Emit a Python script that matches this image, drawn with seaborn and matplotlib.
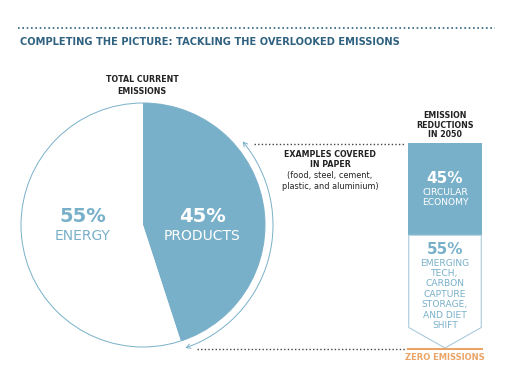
import numpy as np
import matplotlib
matplotlib.use("Agg")
import matplotlib.pyplot as plt
import seaborn as sns
from matplotlib.patches import Circle, Polygon, FancyArrowPatch
from matplotlib.path import Path
from matplotlib.transforms import Affine2D

# ---- data ----
pie_labels = ["PRODUCTS", "ENERGY"]
pie_values = [45, 55]
bar_segments = ["CIRCULAR ECONOMY", "EMERGING TECH"]
bar_values = [45, 55]

title = "COMPLETING THE PICTURE: TACKLING THE OVERLOOKED EMISSIONS"

sns.set_theme(style="white")
plt.rcParams['font.family'] = ['DejaVu Sans']

BLUE = "#79b0c9"
TEAL = "#2f6180"
ORANGE = "#eba468"
DARK = "#222222"

fig = plt.figure(figsize=(5.10, 3.82), dpi=100)

# bar (inset, drawn below the annotation layer)
bx = fig.add_axes([408 / 510, 34 / 382, 74 / 510, 205 / 382])
bx.set_xlim(-0.5, 0.5)
bx.set_ylim(0, 100)
bx.axis("off")
bx.bar([0], [bar_values[0]], bottom=bar_values[1], width=1.0, color=BLUE, linewidth=0)
tip = 10
bx.add_patch(Polygon([(-0.49, bar_values[1]), (0.49, bar_values[1]), (0.49, tip), (0, 0), (-0.49, tip)],
                     closed=True, facecolor="white", edgecolor="#a9cbdc", lw=0.8))
bx.set_zorder(0)

ax = fig.add_axes([0, 0, 1, 1])
ax.set_zorder(1)
ax.patch.set_alpha(0)

# pie
cx, cy, r = 143, 157, 122
ax.pie(pie_values, colors=[BLUE, "white"], startangle=90, counterclock=False,
       center=(cx, cy), radius=r, wedgeprops=dict(linewidth=0))
ax.add_patch(Circle((cx, cy), r, fill=False, edgecolor=BLUE, lw=0.7))
ax.set_xlim(0, 510)
ax.set_ylim(0, 382)
ax.set_aspect("equal")
ax.axis("off")

# arc with arrows around products wedge
ra = 130
arc = Path.arc(-71, 40)
arc = arc.transformed(Affine2D().scale(ra).translate(cx, cy))
ax.add_patch(FancyArrowPatch(path=arc, arrowstyle="<->,head_length=3,head_width=1.6",
                             color=BLUE, lw=0.7))

# dotted lines
ax.plot([18, 495], [354, 354], ls=(0, (1, 1.6)), color=TEAL, lw=1.2)
ax.plot([254, 405], [238, 238], ls=(0, (1, 1.6)), color="#444444", lw=1.0)
ax.plot([197, 405], [33, 33], ls=(0, (1, 1.6)), color="#444444", lw=1.0)
ax.plot([407, 483], [33, 33], color=ORANGE, lw=1.5, solid_capstyle="butt")

# title
ax.text(20, 340, title, color=TEAL, fontsize=7.1, fontweight="bold", va="center", ha="left")

# header texts
hs = 5.7
ax.text(142, 302, "TOTAL CURRENT", fontsize=hs, fontweight="bold", ha="center", va="center", color=DARK)
ax.text(142, 291, "EMISSIONS", fontsize=hs, fontweight="bold", ha="center", va="center", color=DARK)
for y, s in zip([267, 257, 247], ["EMISSION", "REDUCTIONS", "IN 2050"]):
    ax.text(445, y, s, fontsize=hs, fontweight="bold", ha="center", va="center", color=DARK)
ax.text(330, 227, "EXAMPLES COVERED", fontsize=hs, fontweight="bold", ha="center", va="center", color=DARK)
ax.text(330, 217, "IN PAPER", fontsize=hs, fontweight="bold", ha="center", va="center", color=DARK)
ax.text(330, 206, "(food, steel, cement,", fontsize=5.9, ha="center", va="center", color=DARK)
ax.text(330, 195, "plastic, and aluminium)", fontsize=5.9, ha="center", va="center", color=DARK)

# pie labels
ax.text(83, 165, f"{pie_values[1]}%", fontsize=14, color=BLUE, ha="center", va="center", fontweight="semibold")
ax.text(83, 146, pie_labels[1], fontsize=10, color=BLUE, ha="center", va="center")
ax.text(202, 165, f"{pie_values[0]}%", fontsize=14, color="white", ha="center", va="center", fontweight="semibold")
ax.text(202, 146, pie_labels[0], fontsize=10, color="white", ha="center", va="center")

# bar labels
bs = 6.6
ax.text(445, 203, f"{bar_values[0]}%", fontsize=11, color="white", ha="center", va="center", fontweight="semibold")
ax.text(445, 189.5, "CIRCULAR", fontsize=bs, color="white", ha="center", va="center")
ax.text(445, 179, "ECONOMY", fontsize=bs, color="white", ha="center", va="center")
ax.text(445, 132, f"{bar_values[1]}%", fontsize=11, color=BLUE, ha="center", va="center", fontweight="semibold")
for y, s in zip([119, 108.5, 98, 87.5, 77, 66.5, 56],
                ["EMERGING", "TECH,", "CARBON", "CAPTURE", "STORAGE,", "AND DIET", "SHIFT"]):
    ax.text(445, y, s, fontsize=bs, color=BLUE, ha="center", va="center")
ax.text(445, 24, "ZERO EMISSIONS", fontsize=6.0, color=ORANGE, ha="center", va="center", fontweight="bold")

fig.savefig("out.png", dpi=100)
